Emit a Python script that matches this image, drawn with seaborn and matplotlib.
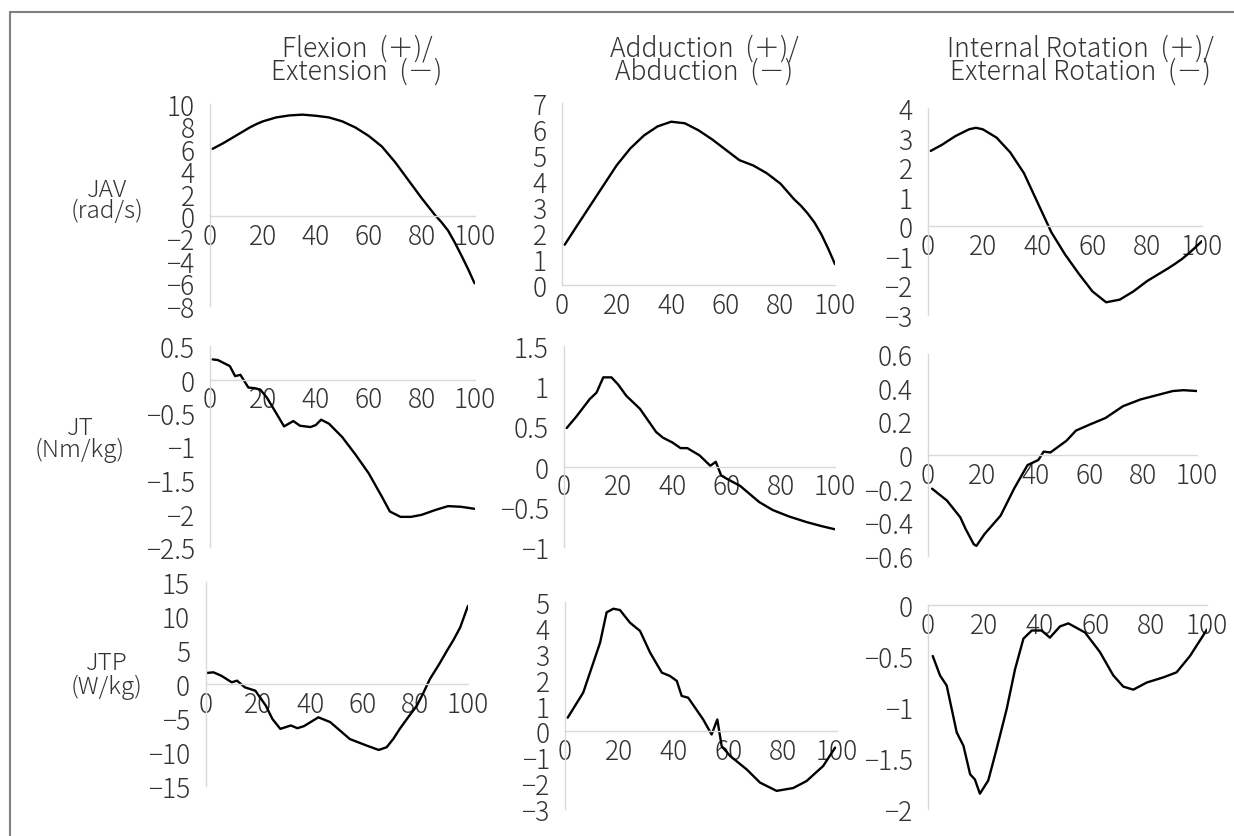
import matplotlib
matplotlib.use('Agg')
import matplotlib.pyplot as plt
from matplotlib.lines import Line2D
from matplotlib.ticker import FixedLocator, FuncFormatter
import seaborn as sns

# ---- data, x = % of cycle ----
pct = [1, 5, 10, 15, 17.5, 20, 25, 30, 35, 40, 45, 50, 55, 60, 65, 70, 75, 80, 85, 87.5, 90,
       92.5, 95, 97.5, 100]

jav_flex = [6.0, 6.5, 7.2, 7.9, 8.2, 8.45, 8.8, 8.98, 9.05, 8.95, 8.8, 8.45, 7.9, 7.15, 6.2,
            4.8, 3.2, 1.6, 0.1, -0.55, -1.3, -2.35, -3.5, -4.7, -6.0]
jav_add = [1.55, 2.2, 3.0, 3.8, 4.2, 4.6, 5.25, 5.75, 6.1, 6.28, 6.22, 5.95, 5.6, 5.2, 4.8,
           4.6, 4.3, 3.9, 3.3, 3.05, 2.75, 2.4, 1.95, 1.4, 0.8]
jav_int = [2.55, 2.75, 3.05, 3.28, 3.33, 3.28, 3.0, 2.5, 1.8, 0.8, -0.2, -0.95, -1.6, -2.2,
           -2.57, -2.48, -2.2, -1.85, -1.57, -1.43, -1.28, -1.12, -0.93, -0.72, -0.5]

jt_flex_x = [1, 3, 5, 7.5, 9.5, 11.5, 14.5, 17, 19, 21.5, 25, 28, 31.5, 34, 38, 40, 42, 45,
             50, 55, 60, 65, 68, 72, 76, 80, 85, 90, 95, 100]
jt_flex = [0.3, 0.29, 0.25, 0.2, 0.05, 0.07, -0.12, -0.13, -0.15, -0.27, -0.5, -0.7, -0.62,
           -0.69, -0.71, -0.68, -0.6, -0.66, -0.86, -1.12, -1.4, -1.75, -1.97, -2.05, -2.05,
           -2.02, -1.95, -1.89, -1.9, -1.93]

jt_add_x = [1, 4.5, 9.5, 12, 14.5, 17.5, 20, 23, 28, 34, 36.5, 40, 43, 45.5, 50, 54, 56, 58,
            60, 65, 72, 77, 83, 89.5, 95, 100]
jt_add = [0.48, 0.62, 0.84, 0.92, 1.11, 1.11, 1.02, 0.88, 0.72, 0.43, 0.36, 0.30, 0.23, 0.23,
          0.14, 0.01, 0.06, -0.11, -0.15, -0.24, -0.44, -0.54, -0.62, -0.69, -0.74, -0.78]

jt_int_x = [1.5, 7, 12, 14, 17, 18, 21, 27, 32, 37, 41, 43, 45.5, 51.5, 55, 60, 66, 72.5, 79,
            85, 91, 95, 100]
jt_int = [-0.2, -0.27, -0.37, -0.44, -0.53, -0.54, -0.47, -0.36, -0.2, -0.06, -0.03, 0.02,
          0.015, 0.085, 0.145, 0.18, 0.22, 0.29, 0.33, 0.355, 0.38, 0.385, 0.38]

jtp_flex_x = [0.5, 3, 6, 10, 12, 15, 19, 23, 25.5, 28.5, 32.5, 35, 37.5, 43, 47.5, 55, 61.5,
              66, 69, 71.5, 74, 77, 80.5, 83, 85.5, 89, 92, 94.5, 97, 100]
jtp_flex = [1.62, 1.72, 1.22, 0.25, 0.49, -0.49, -0.99, -3.2, -5.15, -6.6, -6.1, -6.5, -6.2,
            -4.9, -5.6, -8.1, -9.07, -9.7, -9.3, -8.1, -6.6, -5.0, -3.2, -1.3, 0.74, 2.9, 4.9,
            6.5, 8.3, 11.5]

jtp_add_x = [1, 6.7, 10.4, 12.9, 15.3, 17.8, 20.2, 23.9, 27.6, 31.3, 35.6, 38.6, 41.1, 42.9,
             45.3, 50.8, 53.9, 56, 57.6, 60.7, 66.8, 71.7, 77.8, 83.9, 88.8, 94.9, 99.3]
jtp_add = [0.53, 1.5, 2.65, 3.43, 4.6, 4.74, 4.69, 4.2, 3.88, 3.04, 2.27, 2.14, 1.95, 1.37,
           1.3, 0.46, -0.12, 0.46, -0.57, -0.95, -1.47, -1.98, -2.3, -2.19, -1.92, -1.34, -0.63]

jtp_int_x = [1.7, 4.3, 6.7, 10.3, 12.7, 15.1, 16.8, 18.6, 21.6, 24.6, 28.2, 31.2, 34.2, 37.2,
             40.7, 43.7, 47.3, 50.3, 56.3, 61.6, 66.4, 70, 73.6, 78.4, 84.3, 89.1, 93.9, 100]
jtp_int = [-0.5, -0.69, -0.79, -1.25, -1.38, -1.66, -1.71, -1.85, -1.72, -1.41, -1.02, -0.63,
           -0.33, -0.25, -0.25, -0.32, -0.21, -0.18, -0.27, -0.46, -0.69, -0.8, -0.83, -0.76,
           -0.71, -0.66, -0.5, -0.24]

col_titles = [("Flexion  (＋)/", "Extension  (－)"),
              ("Adduction  (＋)/", "Abduction  (－)"),
              ("Internal Rotation  (＋)/", "External Rotation  (－)")]
row_labels = [("JAV", "(rad/s)"), ("JT", "(Nm/kg)"), ("JTP", "(W/kg)")]

yticks = [
    [-8, -6, -4, -2, 0, 2, 4, 6, 8, 10], [0, 1, 2, 3, 4, 5, 6, 7], [-3, -2, -1, 0, 1, 2, 3, 4],
    [-2.5, -2, -1.5, -1, -0.5, 0, 0.5], [-1, -0.5, 0, 0.5, 1, 1.5], [-0.6, -0.4, -0.2, 0, 0.2, 0.4, 0.6],
    [-15, -10, -5, 0, 5, 10, 15], [-3, -2, -1, 0, 1, 2, 3, 4, 5], [-2, -1.5, -1, -0.5, 0],
]
series = [(pct, jav_flex), (pct, jav_add), (pct, jav_int),
          (jt_flex_x, jt_flex), (jt_add_x, jt_add), (jt_int_x, jt_int),
          (jtp_flex_x, jtp_flex), (jtp_add_x, jtp_add), (jtp_int_x, jtp_int)]

# plot areas in pixels: x(0), x(100), y(top), y(bottom)
boxes = [(210, 474.5, 105, 306.6), (562, 835, 104, 286), (928, 1202, 109, 316),
         (210, 474.5, 347, 548), (564, 835, 347, 548), (928, 1197, 355, 557),
         (205.5, 468, 583, 787), (565, 837, 603, 810), (928, 1207, 606, 810)]

W, H = 1234, 837
sns.set_style('white')
plt.rcParams['font.family'] = ['Noto Sans CJK JP', 'DejaVu Sans']
plt.rcParams['font.weight'] = 'light'
TXT = '#333333'
GRID = '#d9d9d9'

fig = plt.figure(figsize=(W / 100, H / 100), dpi=100)


def fmt(v, pos):
    if abs(v) < 1e-9:
        return '0'
    return f'{round(v, 2):g}'.replace('-', '−')


for (xs, ys), yt, (x0, x1, yt_px, yb_px) in zip(series, yticks, boxes):
    ax = fig.add_axes([x0 / W, 1 - yb_px / H, (x1 - x0) / W, (yb_px - yt_px) / H])
    sns.lineplot(x=xs, y=ys, ax=ax, color='black', lw=1.7, sort=False)
    ax.set_xlim(0, 100)
    ax.set_ylim(min(yt), max(yt))
    ax.set_facecolor('none')
    ax.spines['top'].set_visible(False)
    ax.spines['right'].set_visible(False)
    ax.spines['left'].set_position(('data', 0))
    ax.spines['bottom'].set_position(('data', 0))
    for s in ('left', 'bottom'):
        ax.spines[s].set_color(GRID)
        ax.spines[s].set_linewidth(1.0)
    ax.xaxis.set_major_locator(FixedLocator([0, 20, 40, 60, 80, 100]))
    ax.yaxis.set_major_locator(FixedLocator(yt))
    ax.xaxis.set_major_formatter(FuncFormatter(fmt))
    ax.yaxis.set_major_formatter(FuncFormatter(fmt))
    ax.tick_params(axis='both', direction='out', length=3, width=1.0, color=GRID,
                   labelsize=19, labelcolor=TXT)
    ax.tick_params(axis='x', pad=1)
    ax.tick_params(axis='y', pad=8)
    ax.set_xlabel('')
    ax.set_ylabel('')

# column titles
for cx, (l1, l2) in zip([357, 704, 1080], col_titles):
    fig.text(cx / W, 1 - 56 / H, l1, ha='center', va='baseline', fontsize=19, color=TXT)
    fig.text(cx / W, 1 - 80 / H, l2, ha='center', va='baseline', fontsize=19, color=TXT)

# row labels
for (cx, b1, b2), (l1, l2) in zip([(107, 197, 218), (80, 435, 457), (107, 670, 694)], row_labels):
    fig.text(cx / W, 1 - b1 / H, l1, ha='center', va='baseline', fontsize=17.5, color=TXT)
    fig.text(cx / W, 1 - b2 / H, l2, ha='center', va='baseline', fontsize=17.5, color=TXT)

# frame around the figure
fig.add_artist(Line2D([10 / W, 10 / W], [1 - 12.7 / H, 0], color='#808080', lw=1.5))
fig.add_artist(Line2D([10 / W, 1], [1 - 12.7 / H, 1 - 12.7 / H], color='#808080', lw=1.5))

fig.savefig('out.png', dpi=100)
